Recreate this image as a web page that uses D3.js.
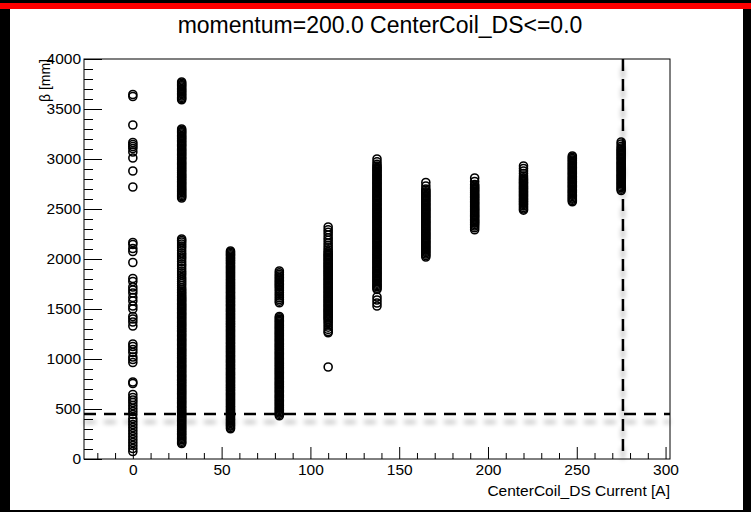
<!DOCTYPE html>
<html>
<head>
<meta charset="utf-8">
<script src="https://cdn.jsdelivr.net/npm/d3@7"></script>
<style>
  html, body { margin: 0; padding: 0; background: #000; }
  svg { display: block; }
  text { font-family: "Liberation Sans", Arial, sans-serif; }
</style>
</head>
<body>
<svg id="chart" width="751" height="512"></svg>
<script>
const title = "momentum=200.0 CenterCoil_DS<=0.0";
const xLabel = "CenterCoil_DS Current [A]";
const yLabel = "β [mm]";
const xTicks = [0, 50, 100, 150, 200, 250, 300];
const yTicks = [0, 500, 1000, 1500, 2000, 2500, 3000, 3500, 4000];

// coil currents of the scan steps
const currents = [0, 27.5, 55, 82.5, 110, 137.5, 165, 192.5, 220, 247.5, 275];

// beta values [mm] at each current
const beta0 = [3645, 3625, 3340, 3165, 3145, 3125, 3105, 3070, 3010, 2880, 2720, 2165, 2145, 2105, 2075, 1965, 1805, 1775, 1720, 1690, 1660, 1615, 1580, 1530, 1500, 1425, 1400, 1370, 1330, 1150, 1125, 1095, 1065, 1020, 995, 965, 770, 755, 645, 615, 590, 565, 535, 505, 475, 445, 405, 375, 345, 315, 285, 255, 225, 195, 165, 135, 105, 75];
const beta27 = [3770, 3758, 3744, 3733, 3720, 3705, 3693, 3680, 3669, 3655, 3643, 3630, 3616, 3605, 3592,
  3300, 3288, 3274, 3263, 3250, 3235, 3223, 3210, 3199, 3185, 3173, 3160, 3146, 3135, 3122, 3107, 3095, 3082, 3071, 3057, 3045, 3032, 3018, 3007, 2994, 2979, 2967, 2954, 2943, 2929, 2917, 2904, 2890, 2879, 2866, 2851, 2839, 2826, 2815, 2801, 2789, 2776, 2762, 2751, 2738, 2723, 2711, 2698, 2687, 2673, 2661, 2648, 2634, 2623, 2610,
  2200, 2185, 2170, 2150, 2130, 2110, 2085, 2060, 2040, 2020, 2000, 1975, 1950, 1930, 1905, 1880, 1860, 1840, 1815, 1795, 1775, 1755, 1735, 1712, 1695, 1680, 1664, 1650, 1636, 1621, 1608, 1595, 1582, 1570, 1556, 1543, 1531, 1518, 1505, 1492, 1480, 1466, 1453, 1441, 1428, 1414, 1402, 1389, 1377, 1363, 1350, 1338, 1325, 1311, 1299, 1286, 1274, 1260, 1247, 1235, 1222, 1208, 1196, 1183, 1171, 1157, 1144, 1132, 1119, 1105, 1093, 1080, 1068, 1054, 1041, 1029, 1016, 1002, 990, 977, 965, 951, 938, 926, 913, 899, 887, 874, 862, 848, 835, 823, 810, 796, 784, 771, 759, 745, 732, 720, 707, 693, 681, 668, 656, 642, 629, 617, 604, 590, 578, 565, 553, 539, 526, 514, 501, 487, 475, 462, 450, 436, 423, 411, 398, 384, 372, 359, 347, 333, 320, 308, 295, 281, 269, 256, 244, 230, 217, 205, 192, 178, 166, 155];
const beta55 = [2080, 2068, 2055, 2043, 2030, 2016, 2004, 1991, 1980, 1966, 1954, 1941, 1927, 1916, 1903, 1889, 1877, 1864, 1853, 1839, 1827, 1814, 1800, 1789, 1776, 1762, 1750, 1737, 1726, 1712, 1700, 1687, 1673, 1662, 1649, 1635, 1623, 1610, 1599, 1585, 1573, 1560, 1546, 1535, 1522, 1508, 1496, 1483, 1472, 1458, 1446, 1433, 1419, 1408, 1395, 1381, 1369, 1356, 1345, 1331, 1319, 1306, 1292, 1281, 1268, 1254, 1242, 1229, 1218, 1204, 1192, 1179, 1165, 1154, 1141, 1127, 1115, 1102, 1091, 1077, 1065, 1052, 1038, 1027, 1014, 1000, 988, 975, 964, 950, 938, 925, 911, 900, 887, 873, 861, 848, 837, 823, 811, 798, 784, 773, 760, 746, 734, 721, 710, 696, 684, 671, 657, 646, 633, 619, 607, 594, 583, 569, 557, 544, 530, 519, 506, 492, 480, 467, 456, 442, 430, 417, 403, 392, 379, 365, 353, 340, 329, 315, 302];
const beta82 = [1880, 1862, 1846, 1830, 1815, 1800, 1786, 1772, 1758, 1745, 1731, 1718, 1700, 1684, 1666, 1648, 1630, 1612, 1595, 1578, 1562,
  1425, 1412, 1399, 1386, 1374, 1360, 1348, 1335, 1321, 1310, 1297, 1283, 1271, 1258, 1247, 1233, 1221, 1208, 1194, 1183, 1170, 1156, 1144, 1131, 1120, 1106, 1094, 1081, 1067, 1056, 1043, 1029, 1017, 1004, 993, 979, 967, 954, 940, 929, 916, 902, 890, 877, 866, 852, 840, 827, 813, 802, 789, 775, 763, 750, 739, 725, 713, 700, 686, 675, 662, 648, 636, 623, 612, 598, 586, 573, 559, 548, 535, 521, 509, 496, 485, 471, 459, 446, 432];
const beta110 = [2320, 2292, 2268, 2240, 2212, 2188, 2160, 2136, 2112, 2092, 2074, 2060, 2046, 2033, 2020, 2007, 1994, 1982, 1968, 1956, 1943, 1929, 1918, 1905, 1891, 1879, 1866, 1855, 1841, 1829, 1816, 1802, 1791, 1778, 1764, 1752, 1739, 1728, 1714, 1702, 1689, 1675, 1664, 1651, 1637, 1625, 1612, 1601, 1587, 1575, 1562, 1548, 1537, 1524, 1510, 1498, 1485, 1474, 1460, 1448, 1435, 1421, 1410, 1397, 1380, 1362, 1340, 1318, 1296, 1275, 1262, 920];
const beta137 = [3000, 2972, 2948, 2930, 2917, 2904, 2890, 2879, 2866, 2851, 2839, 2826, 2815, 2801, 2789, 2776, 2762, 2751, 2738, 2723, 2711, 2698, 2687, 2673, 2661, 2648, 2634, 2623, 2610, 2597, 2585, 2572, 2558, 2547, 2534, 2520, 2508, 2495, 2484, 2470, 2458, 2445, 2431, 2420, 2407, 2393, 2381, 2368, 2357, 2343, 2331, 2318, 2304, 2293, 2280, 2266, 2254, 2241, 2230, 2216, 2204, 2191, 2177, 2166, 2153, 2139, 2127, 2114, 2103, 2089, 2077, 2064, 2050, 2039, 2026, 2012, 2000, 1987, 1976, 1962, 1950, 1937, 1923, 1912, 1899, 1885, 1873, 1860, 1849, 1835, 1823, 1810, 1796, 1785, 1772, 1758, 1746, 1733, 1722, 1708, 1696, 1620, 1590, 1560, 1530];
const beta165 = [2765, 2730, 2700, 2687, 2673, 2661, 2648, 2634, 2623, 2610, 2597, 2585, 2572, 2558, 2547, 2534, 2520, 2508, 2495, 2484, 2470, 2458, 2445, 2431, 2420, 2407, 2393, 2381, 2368, 2357, 2343, 2331, 2318, 2304, 2293, 2280, 2266, 2254, 2241, 2230, 2216, 2204, 2191, 2177, 2166, 2153, 2139, 2127, 2114, 2103, 2089, 2077, 2064, 2050, 2035, 2020];
const beta192 = [2810, 2775, 2745, 2730, 2717, 2704, 2690, 2679, 2666, 2651, 2639, 2626, 2615, 2601, 2589, 2576, 2562, 2551, 2538, 2523, 2511, 2498, 2487, 2473, 2461, 2448, 2434, 2423, 2410, 2395, 2383, 2370, 2359, 2345, 2330, 2312, 2292];
const beta220 = [2930, 2905, 2880, 2855, 2830, 2812, 2798, 2785, 2771, 2760, 2747, 2733, 2721, 2708, 2697, 2683, 2671, 2658, 2644, 2633, 2620, 2606, 2594, 2581, 2570, 2556, 2544, 2531, 2515, 2500, 2488];
const beta247 = [3030, 3017, 3004, 2990, 2979, 2966, 2952, 2940, 2927, 2916, 2902, 2890, 2877, 2863, 2852, 2839, 2825, 2813, 2800, 2789, 2775, 2763, 2750, 2736, 2725, 2712, 2698, 2686, 2673, 2662, 2648, 2636, 2623, 2609, 2598, 2585, 2572];
const beta275 = [3170, 3150, 3128, 3110, 3096, 3083, 3071, 3057, 3045, 3032, 3018, 3007, 2994, 2979, 2967, 2954, 2943, 2929, 2917, 2904, 2890, 2879, 2866, 2851, 2839, 2826, 2815, 2801, 2789, 2776, 2762, 2751, 2738, 2723, 2711, 2698, 2685];

const betaByCurrent = [beta0, beta27, beta55, beta82, beta110, beta137, beta165, beta192, beta220, beta247, beta275];

// cut lines
const betaCut = 450;
const currentCut = 276;

const points = [];
currents.forEach((c, i) => {
    betaByCurrent[i].forEach(b => points.push({ current: c, beta: b }));
});

const svg = d3.select("#chart");
const width = +svg.attr("width");
const height = +svg.attr("height");

const padLeft = 84, padRight = 670, padTop = 59, padBottom = 459;

const x = d3.scaleLinear().domain([-27.5, 302.5]).range([padLeft, padRight]);
const y = d3.scaleLinear().domain([0, 4000]).range([padBottom, padTop]);

// background: black window, red strip, white canvas
svg.append("rect").attr("width", width).attr("height", height).attr("fill", "#000");
svg.append("rect").attr("x", 0).attr("y", 3).attr("width", width).attr("height", 6).attr("fill", "#ff0000");
svg.append("rect").attr("x", 10).attr("y", 9).attr("width", 733).attr("height", 501).attr("fill", "#fff");

const defs = svg.append("defs");
const shadow = defs.append("filter").attr("id", "shadow")
    .attr("x", "-20%").attr("y", "-20%").attr("width", "140%").attr("height", "140%");
shadow.append("feGaussianBlur").attr("in", "SourceAlpha").attr("stdDeviation", 2.5);
shadow.append("feOffset").attr("dx", 0).attr("dy", 8).attr("result", "off");
shadow.append("feComponentTransfer").append("feFuncA").attr("type", "linear").attr("slope", 0.35);
const merge = shadow.append("feMerge");
merge.append("feMergeNode");
merge.append("feMergeNode").attr("in", "SourceGraphic");

// minor ticks
const xMinor = d3.range(-20, 301, 10).filter(v => v % 50 !== 0);
const yMinor = d3.range(0, 4001, 100).filter(v => v % 500 !== 0);

svg.append("g")
    .attr("transform", `translate(0,${padBottom})`)
    .call(d3.axisBottom(x).tickValues(xMinor).tickSize(-6).tickFormat(""))
    .call(g => g.select(".domain").remove());

svg.append("g")
    .attr("transform", `translate(${padLeft},0)`)
    .call(d3.axisLeft(y).tickValues(yMinor).tickSize(-9).tickFormat(""))
    .call(g => g.select(".domain").remove());

const xAxis = svg.append("g")
    .attr("transform", `translate(0,${padBottom})`)
    .call(d3.axisBottom(x).tickValues(xTicks).tickSize(-12).tickPadding(5).tickFormat(d3.format("d")));
xAxis.select(".domain").remove();

const yAxis = svg.append("g")
    .attr("transform", `translate(${padLeft},0)`)
    .call(d3.axisLeft(y).tickValues(yTicks).tickSize(-18).tickPadding(3).tickFormat(d3.format("d")));
yAxis.select(".domain").remove();

svg.selectAll(".tick text").attr("font-size", 15.5).attr("fill", "#000")
    .attr("font-family", "Liberation Sans, Arial, sans-serif");
svg.selectAll(".tick line").attr("stroke", "#000");

// frame
svg.append("rect")
    .attr("x", padLeft).attr("y", padTop)
    .attr("width", padRight - padLeft).attr("height", padBottom - padTop)
    .attr("fill", "none").attr("stroke", "#000").attr("stroke-width", 1);

// markers
svg.append("g")
    .selectAll("circle")
    .data(points)
    .enter().append("circle")
    .attr("cx", d => x(d.current))
    .attr("cy", d => y(d.beta))
    .attr("r", 4)
    .attr("fill", "none")
    .attr("stroke", "#000")
    .attr("stroke-width", 1.6);

// cut lines
const cuts = svg.append("g").attr("filter", "url(#shadow)");
cuts.append("line")
    .attr("x1", padLeft).attr("x2", padRight)
    .attr("y1", y(betaCut)).attr("y2", y(betaCut))
    .attr("stroke", "#000").attr("stroke-width", 2.5).attr("stroke-dasharray", "12,8");
cuts.append("line")
    .attr("x1", x(currentCut)).attr("x2", x(currentCut))
    .attr("y1", padTop).attr("y2", padBottom)
    .attr("stroke", "#000").attr("stroke-width", 2.5).attr("stroke-dasharray", "12,8");

// texts
svg.append("text")
    .attr("x", 380).attr("y", 33)
    .attr("text-anchor", "middle")
    .attr("font-size", 23)
    .text(title);

svg.append("text")
    .attr("x", padRight).attr("y", 496)
    .attr("text-anchor", "end")
    .attr("font-size", 15.5)
    .text(xLabel);

svg.append("text")
    .attr("transform", `translate(50,${padTop}) rotate(-90)`)
    .attr("text-anchor", "end")
    .attr("font-size", 14)
    .text(yLabel);
</script>
</body>
</html>
